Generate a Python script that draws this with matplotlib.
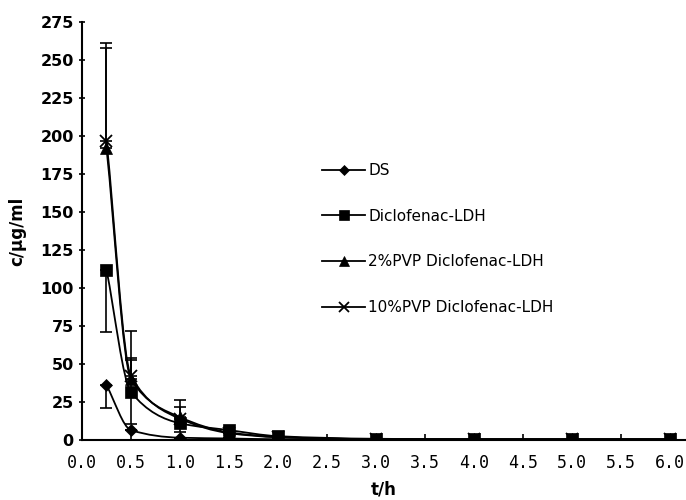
import numpy as np
import matplotlib
matplotlib.use('Agg')
import matplotlib.pyplot as plt
from matplotlib.path import Path
from matplotlib.patches import PathPatch
from matplotlib.lines import Line2D

# ── Data ──────────────────────────────────────────────────────
t_h = [0.25, 0.5, 1.0, 1.5, 2.0, 3.0, 4.0, 5.0, 6.0]

ds      = [36, 6.5, 1.5, 1.0, 0.5, 0.3, 0.3, 0.3, 0.3]
ldh     = [112, 31.5, 11, 6.5, 2.5, 0.8, 0.5, 0.5, 0.5]
pvp2    = [192, 40, 15, 5, 2, 0.5, 0.5, 0.5, 0.5]
pvp10   = [197, 42, 14, 4.5, 1.8, 0.6, 0.5, 0.5, 0.5]

# error bars (lower, upper) — only visible sides
ds_err    = ([15, 0, 0, 0, 0, 0, 0, 0, 0], [0, 0, 0, 0, 0, 0, 0, 0, 0])
ldh_err   = ([41, 21, 6, 0, 0, 0, 0, 0, 0], [0, 21, 0, 0, 0, 0, 0, 0, 0])
pvp2_err  = ([0, 0, 0, 0, 0, 0, 0, 0, 0], [66, 32, 11, 0, 0, 0, 0, 0, 0])
pvp10_err = ([0, 0, 0, 0, 0, 0, 0, 0, 0], [64, 12, 8, 0, 0, 0, 0, 0, 0])

labels  = ['DS', 'Diclofenac-LDH', '2%PVP Diclofenac-LDH', '10%PVP Diclofenac-LDH']
markers = ['D', 's', '^', 'x']
msizes  = [6, 8, 8, 8]

x_ticks = np.arange(0, 6.01, 0.5)
y_ticks = np.arange(0, 276, 25)


def smooth_path(x, y):
    # monotone cubic (Fritsch-Carlson tangents) drawn as Bezier segments
    x = np.asarray(x, float)
    y = np.asarray(y, float)
    n = len(x)
    h = np.diff(x)
    d = np.diff(y) / h
    m = np.zeros(n)
    m[0], m[-1] = d[0], d[-1]
    for i in range(1, n - 1):
        if d[i - 1] * d[i] > 0:
            w1 = 2 * h[i] + h[i - 1]
            w2 = h[i] + 2 * h[i - 1]
            m[i] = (w1 + w2) / (w1 / d[i - 1] + w2 / d[i])
    verts = [(x[0], y[0])]
    codes = [Path.MOVETO]
    for i in range(n - 1):
        verts += [(x[i] + h[i] / 3, y[i] + m[i] * h[i] / 3),
                  (x[i + 1] - h[i] / 3, y[i + 1] - m[i + 1] * h[i] / 3),
                  (x[i + 1], y[i + 1])]
        codes += [Path.CURVE4] * 3
    return Path(verts, codes)


fig = plt.figure(figsize=(6.86, 5.0), dpi=100)
ax = fig.add_axes([0.1195, 0.12, 0.8805, 0.836])

series = [(ds, ds_err), (ldh, ldh_err), (pvp2, pvp2_err), (pvp10, pvp10_err)]
for (vals, err), m, ms in zip(series, markers, msizes):
    ax.add_patch(PathPatch(smooth_path(t_h, vals), fill=False, ec='black', lw=1.3, zorder=2))
    ax.errorbar(t_h, vals, yerr=[err[0], err[1]], fmt='none', ecolor='black',
                elinewidth=1.2, capsize=4, capthick=1.2, zorder=2)
    ax.plot(t_h, vals, linestyle='none', marker=m, ms=ms, color='black',
            mew=1.3 if m == 'x' else 0.5, zorder=3)

ax.set_xlim(0, 6.16)
ax.set_ylim(0, 275)
ax.set_xticks(x_ticks)
ax.set_xticklabels([f'{v:.1f}' for v in x_ticks], family='DejaVu Sans Mono', fontsize=12)
ax.set_yticks(y_ticks)
ax.set_yticklabels([str(v) for v in y_ticks], fontsize=11.5, fontweight='semibold')
ax.tick_params(axis='y', direction='inout', length=5, width=1.2, color='black')
ax.tick_params(axis='x', direction='in', length=4, width=1.2, pad=10)
for s in ['top', 'right']:
    ax.spines[s].set_visible(False)
for s in ['left', 'bottom']:
    ax.spines[s].set_linewidth(1.5)

ax.set_xlabel('t/h', fontsize=12, fontweight='bold', labelpad=6)
ax.set_ylabel('c/\u03bcg/ml', fontsize=12, fontweight='bold', labelpad=10)

handles = [Line2D([], [], color='black', lw=1.3, marker=m, ms=ms - 1,
                  mew=1.3 if m == 'x' else 0.5) for m, ms in zip(markers, msizes)]
ax.legend(handles, labels, loc='upper left', bbox_to_anchor=(0.375, 0.695), frameon=False,
          fontsize=11, handlelength=2.8, handletextpad=0.2, labelspacing=2.0)

fig.savefig('out.png', dpi=100)
